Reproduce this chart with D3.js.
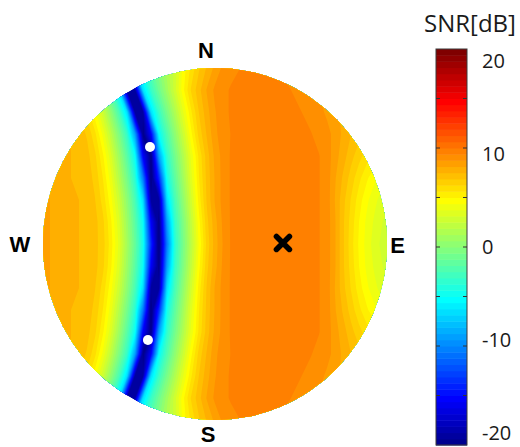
<!DOCTYPE html>
<html><head><meta charset="utf-8">
<script src="https://cdn.jsdelivr.net/npm/d3@7"></script>
<style>html,body{margin:0;padding:0;background:#fff;}svg{display:block;}</style>
</head><body>
<svg id="chart" width="520" height="447"></svg>
<script>
// ---------- DATA ----------
// SNR [dB] sampled on a regular grid over the coverage disk:
// rows run north -> south, columns run west -> east (45 samples per row).
const snrRows = [
  [7.6,7.5,7.3,6.8,5.9,4.4,2.4,0.0,-2.9,-7.7,-19.5,-17.2,-6.0,-3.4,-1.7,0.0,1.6,2.8,4.6,5.8,6.8,7.6,8.3,8.9,9.15,9.35,9.5,9.6,9.6,9.5,9.4,9.2,9.1,8.9,8.7,8.5,8.3,8.2,8.1,8.0,7.9,7.8,7.7,7.6,7.5],
  [7.8,7.6,7.5,7.3,6.9,6.0,4.6,2.7,0.3,-2.5,-6.5,-19.0,-19.0,-6.5,-3.2,-1.0,1.0,2.9,4.8,6.3,7.3,8.2,8.9,9.2,9.45,9.6,9.7,9.75,9.75,9.7,9.6,9.45,9.3,9.1,8.9,8.7,8.5,8.3,8.1,8.0,7.9,7.8,7.7,7.6,7.5],
  [8.0,7.8,7.6,7.5,7.3,6.9,6.0,4.6,2.7,0.3,-2.5,-6.5,-19.0,-19.0,-6.5,-3.0,-0.6,1.6,3.7,5.5,6.9,7.9,8.7,9.2,9.45,9.6,9.7,9.8,9.8,9.8,9.7,9.6,9.5,9.35,9.2,9.0,8.6,8.3,8.0,7.7,7.5,7.3,7.1,7.0,6.9],
  [8.1,8.0,7.7,7.5,7.5,7.2,6.8,5.8,4.2,2.1,-0.4,-3.2,-9.0,-20.0,-15.5,-5.1,-2.2,0.3,2.6,4.8,6.5,7.6,8.6,9.1,9.4,9.6,9.75,9.85,9.9,9.9,9.85,9.8,9.7,9.55,9.4,9.2,9.0,8.5,8.0,7.5,7.1,6.8,6.5,6.3,6.1],
  [8.2,8.0,7.8,7.6,7.5,7.4,7.1,6.4,5.1,3.3,0.9,-1.8,-5.0,-15.5,-20.0,-9.0,-3.4,-0.8,1.6,3.9,5.8,7.2,8.3,9.0,9.45,9.65,9.8,9.9,9.95,9.95,9.95,9.9,9.85,9.7,9.55,9.4,9.1,8.4,7.8,7.1,6.5,5.9,5.5,5.2,5.0],
  [8.2,8.1,7.9,7.7,7.5,7.4,7.2,6.7,5.6,4.0,1.8,-0.7,-3.6,-10.5,-20.5,-13.7,-4.6,-1.6,1.0,3.5,5.6,7.1,8.2,9.0,9.45,9.65,9.8,9.9,9.95,9.95,9.95,9.9,9.85,9.7,9.55,9.4,9.1,8.2,7.4,6.6,5.8,5.1,4.5,4.0,3.7],
  [8.2,8.2,8.0,7.8,7.6,7.5,7.3,6.9,6.0,4.6,2.7,0.3,-2.5,-6.5,-19.0,-19.0,-6.5,-2.5,0.3,2.9,5.3,7.0,8.2,9.0,9.45,9.65,9.8,9.9,9.95,9.95,9.95,9.9,9.85,9.7,9.55,9.4,9.1,8.1,7.1,6.2,5.3,4.5,3.9,3.4,3.1],
  [8.2,8.2,8.0,7.8,7.6,7.5,7.4,7.1,6.4,5.1,3.3,0.9,-1.8,-5.0,-15.5,-20.0,-9.0,-3.2,-0.4,2.3,4.8,6.7,7.9,8.9,9.45,9.65,9.8,9.9,9.95,9.95,9.95,9.9,9.85,9.7,9.55,9.4,9.1,8.2,7.0,6.0,5.0,4.2,3.6,3.1,2.7],
  [8.2,8.2,8.0,7.8,7.6,7.5,7.4,7.1,6.5,5.3,3.6,1.2,-1.4,-4.5,-13.7,-20.5,-10.5,-3.6,-0.7,2.0,4.5,6.5,7.8,8.8,9.45,9.65,9.8,9.9,9.95,9.95,9.95,9.9,9.85,9.7,9.55,9.4,9.1,8.2,7.0,5.9,4.9,4.1,3.4,2.9,2.5],
  [8.2,8.2,8.0,7.8,7.6,7.5,7.4,7.1,6.4,5.1,3.3,0.9,-1.8,-5.0,-15.5,-20.0,-9.0,-3.2,-0.4,2.3,4.8,6.7,7.9,8.9,9.45,9.65,9.8,9.9,9.95,9.95,9.95,9.9,9.85,9.7,9.55,9.4,9.1,8.2,7.0,6.0,5.0,4.2,3.6,3.1,2.7],
  [8.2,8.2,8.0,7.8,7.6,7.5,7.3,6.9,6.0,4.6,2.7,0.3,-2.5,-6.5,-19.0,-19.0,-6.5,-2.5,0.3,2.9,5.3,7.0,8.2,9.0,9.45,9.65,9.8,9.9,9.95,9.95,9.95,9.9,9.85,9.7,9.55,9.4,9.1,8.1,7.1,6.2,5.3,4.5,3.9,3.4,3.1],
  [8.2,8.1,7.9,7.7,7.5,7.4,7.2,6.7,5.6,4.0,1.8,-0.7,-3.6,-10.5,-20.5,-13.7,-4.6,-1.6,1.0,3.5,5.6,7.1,8.2,9.0,9.45,9.65,9.8,9.9,9.95,9.95,9.95,9.9,9.85,9.7,9.55,9.4,9.1,8.2,7.4,6.6,5.8,5.1,4.5,4.0,3.7],
  [8.2,8.0,7.8,7.6,7.5,7.4,7.1,6.4,5.1,3.3,0.9,-1.8,-5.0,-15.5,-20.0,-9.0,-3.4,-0.8,1.6,3.9,5.8,7.2,8.3,9.0,9.45,9.65,9.8,9.9,9.95,9.95,9.95,9.9,9.85,9.7,9.55,9.4,9.1,8.4,7.8,7.1,6.5,5.9,5.5,5.2,5.0],
  [8.1,8.0,7.7,7.5,7.5,7.2,6.8,5.8,4.2,2.1,-0.4,-3.2,-9.0,-20.0,-15.5,-5.1,-2.2,0.3,2.6,4.8,6.5,7.6,8.6,9.1,9.4,9.6,9.75,9.85,9.9,9.9,9.85,9.8,9.7,9.55,9.4,9.2,9.0,8.5,8.0,7.5,7.1,6.8,6.5,6.3,6.1],
  [8.0,7.8,7.6,7.5,7.3,6.9,6.0,4.6,2.7,0.3,-2.5,-6.5,-19.0,-19.0,-6.5,-3.0,-0.6,1.6,3.7,5.5,6.9,7.9,8.7,9.2,9.45,9.6,9.7,9.8,9.8,9.8,9.7,9.6,9.5,9.35,9.2,9.0,8.6,8.3,8.0,7.7,7.5,7.3,7.1,7.0,6.9],
  [7.8,7.6,7.5,7.3,6.9,6.0,4.6,2.7,0.3,-2.5,-6.5,-19.0,-19.0,-6.5,-3.2,-1.0,1.0,2.9,4.8,6.3,7.3,8.2,8.9,9.2,9.45,9.6,9.7,9.75,9.75,9.7,9.6,9.45,9.3,9.1,8.9,8.7,8.5,8.3,8.1,8.0,7.9,7.8,7.7,7.6,7.5],
  [7.6,7.5,7.3,6.8,5.9,4.4,2.4,0.0,-2.9,-7.7,-19.5,-17.2,-6.0,-3.4,-1.7,0.0,1.6,2.8,4.6,5.8,6.8,7.6,8.3,8.9,9.15,9.35,9.5,9.6,9.6,9.5,9.4,9.2,9.1,8.9,8.7,8.5,8.3,8.2,8.1,8.0,7.9,7.8,7.7,7.6,7.5]
];
const snrDomain = [-20, 20];
const colorbarTicks = [-15, -10, -5, 0, 5, 10, 15];
const colorbarLabels = [20, 10, 0, -10, -20];
const colorbarTitle = "SNR[dB]";
const compassLabels = ["N", "E", "S", "W"];
// marker positions in normalised disk coordinates (east-west, north-south)
const targetPoints = [{ew: 0.395, ns: 0.006}];
const nullPoints = [{ew: -0.378, ns: 0.551}, {ew: -0.390, ns: -0.545}];

// ---------- LAYOUT ----------
const svg = d3.select("#chart");
const nRows = snrRows.length, nCols = snrRows[0].length;
const mapX = d3.scaleLinear().domain([-1, 1]).range([43, 387]);
const mapY = d3.scaleLinear().domain([1, -1]).range([68, 420]);
const ewStep = 2 / 43;                       // grid spacing in disk units
const halfCols = (nCols - 1) / 2;
const colScale = d3.scaleLinear().domain([0, nCols - 1])
  .range([mapX(-halfCols * ewStep), mapX(halfCols * ewStep)]);
const rowScale = d3.scaleLinear().domain([0, nRows - 1]).range([mapY(1), mapY(-1)]);

// MATLAB jet(64)
function jetMap(m) {
  const n = Math.ceil(m / 4), u = [];
  for (let i = 1; i <= n; i++) u.push(i / n);
  for (let i = 1; i < n; i++) u.push(1);
  for (let i = n; i >= 1; i--) u.push(i / n);
  const gOff = Math.ceil(n / 2) - (m % 4 === 1 ? 1 : 0);
  const J = Array.from({length: m}, () => [0, 0, 0]);
  u.forEach((val, k) => {
    const g = gOff + k + 1, r = g + n, b = g - n;
    if (g >= 1 && g <= m) J[g - 1][1] = val;
    if (r >= 1 && r <= m) J[r - 1][0] = val;
    if (b >= 1 && b <= m) J[b - 1][2] = val;
  });
  return J.map(([r, g, b]) => d3.rgb(r * 255, g * 255, b * 255).formatHex());
}
const jetColors = jetMap(64);
const color = d3.scaleQuantize().domain(snrDomain).range(jetColors);
const bandW = (snrDomain[1] - snrDomain[0]) / jetColors.length;

// ---------- MAP ----------
const cx = mapX(0), cy = mapY(0), rx = mapX(1) - mapX(0), ry = mapY(-1) - mapY(0);
svg.append("defs").append("clipPath").attr("id", "disk")
  .append("ellipse").attr("cx", cx).attr("cy", cy).attr("rx", rx).attr("ry", ry);

const mapG = svg.append("g").attr("clip-path", "url(#disk)");
mapG.append("ellipse").attr("cx", cx).attr("cy", cy).attr("rx", rx + 2).attr("ry", ry + 2)
  .attr("fill", jetColors[0]);

const thresholds = d3.range(1, jetColors.length).map(k => snrDomain[0] + k * bandW);
const contours = d3.contours().size([nCols, nRows]).thresholds(thresholds)(snrRows.flat());
const gridPath = d3.geoPath(d3.geoTransform({
  point(x, y) { this.stream.point(colScale(x - 0.5), rowScale(y - 0.5)); }
}));
mapG.selectAll("path.band").data(contours).join("path")
  .attr("class", "band")
  .attr("d", gridPath)
  .attr("fill", d => color(d.value + bandW / 2));

// markers
svg.selectAll("circle.null").data(nullPoints).join("circle")
  .attr("class", "null")
  .attr("cx", d => mapX(d.ew)).attr("cy", d => mapY(d.ns)).attr("r", 5)
  .attr("fill", "#fff");
svg.selectAll("path.target").data(targetPoints).join("path")
  .attr("class", "target")
  .attr("transform", d => `translate(${mapX(d.ew)},${mapY(d.ns)})`)
  .attr("d", "M-6.5,-6.5L6.5,6.5M6.5,-6.5L-6.5,6.5")
  .attr("stroke", "#000").attr("stroke-width", 5.5).attr("stroke-linecap", "round");

// compass labels
const compassPos = {
  N: [mapX(-0.052), mapY(1) - 10],
  E: [mapX(1) + 10.5, cy + 9],
  S: [mapX(-0.04), mapY(-1) + 22],
  W: [mapX(-1) - 23, cy + 8]
};
svg.selectAll("text.compass").data(compassLabels).join("text")
  .attr("class", "compass")
  .attr("x", d => compassPos[d][0]).attr("y", d => compassPos[d][1])
  .attr("text-anchor", "middle")
  .attr("font-family", "'Liberation Sans', Arial, sans-serif")
  .attr("font-weight", "bold").attr("font-size", 22).attr("fill", "#000")
  .text(d => d);

// ---------- COLORBAR ----------
const cbX0 = 436, cbX1 = 467;
const cbScale = d3.scaleLinear().domain(snrDomain).range([445, 49]);
const cbG = svg.append("g");
cbG.selectAll("rect").data(jetColors).join("rect")
  .attr("x", cbX0)
  .attr("y", (c, k) => cbScale(snrDomain[0] + (k + 1) * bandW))
  .attr("width", cbX1 - cbX0)
  .attr("height", (c, k) => cbScale(snrDomain[0] + k * bandW) - cbScale(snrDomain[0] + (k + 1) * bandW) + 0.5)
  .attr("fill", c => c);
cbG.append("rect").attr("x", cbX0).attr("y", cbScale(snrDomain[1]))
  .attr("width", cbX1 - cbX0).attr("height", cbScale(snrDomain[0]) - cbScale(snrDomain[1]))
  .attr("fill", "none").attr("stroke", "#3a3a3a").attr("stroke-width", 1);
cbG.selectAll("path.tick").data(colorbarTicks).join("path")
  .attr("class", "tick")
  .attr("d", v => `M${cbX0},${cbScale(v)}h4M${cbX1},${cbScale(v)}h-4`)
  .attr("stroke", "#333").attr("stroke-width", 1.2);
const c0 = cbScale(0);
cbG.selectAll("text.lbl").data(colorbarLabels).join("text")
  .attr("class", "lbl")
  .attr("x", 482)
  .attr("y", v => c0 + (cbScale(v) - c0) * 0.94 + 7)
  .attr("font-family", "'Open Sans', sans-serif").attr("font-size", 20).attr("fill", "#1a1a1a")
  .text(v => v);
svg.append("text").attr("x", 470).attr("y", 32).attr("text-anchor", "middle")
  .attr("font-family", "'Open Sans', sans-serif").attr("font-size", 24).attr("fill", "#1a1a1a")
  .text(colorbarTitle);
</script>
</body></html>
